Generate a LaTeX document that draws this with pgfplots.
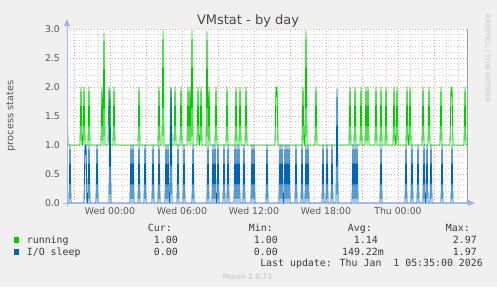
\documentclass[border=0pt]{standalone}
\usepackage{pgfplots}
\pgfplotsset{compat=1.18}
\usetikzlibrary{arrows.meta}
\usepackage{fontspec}
\setmainfont{DejaVu Sans}
\newfontfamily\monofont{DejaVu Sans Mono}
\definecolor{bg}{HTML}{F0F0F0}
\definecolor{running}{HTML}{00CC00}
\definecolor{iosleep}{HTML}{0066B3}
\definecolor{mgrid}{HTML}{EBA0A0}
\definecolor{mingrid}{HTML}{D0D0D0}
\definecolor{axiscol}{HTML}{A8B4E8}
\definecolor{txt}{HTML}{555555}
\definecolor{legtxt}{HTML}{3A3A3A}
\begin{document}
\begin{tikzpicture}
\fill[bg] (-67pt,-84pt) rectangle (430pt,203pt);
\begin{axis}[
  scale only axis, width=400pt, height=174pt,
  xmin=0, xmax=400, ymin=0, ymax=3,
  axis line style={draw=none},
  axis background/.style={fill=white},
  xtick={7,43,...,367},
  xticklabels={,Wed 00:00,,Wed 06:00,,Wed 12:00,,Wed 18:00,,Thu 00:00,},
  minor xtick={7,19,...,391},
  ytick={0,0.5,...,3},
  yticklabels={0.0,0.5,1.0,1.5,2.0,2.5,3.0},
  minor y tick num=4,
  grid=both,
  major grid style={mgrid, line width=0.7pt, dash pattern=on 1pt off 2pt},
  minor grid style={mingrid, line width=0.7pt, dash pattern=on 1pt off 2pt},
  tick style={draw=none},
  major tick length=0pt, minor tick length=0pt,
  ticklabel style={font=\fontsize{9.3}{11}\selectfont, text=txt},
  yticklabel style={anchor=east, inner sep=0pt, xshift=-7pt},
  xticklabel style={anchor=north, inner sep=0pt, yshift=-4pt},
]
\addplot[running, line width=0.85pt, line join=round, mark=none] coordinates {
(0,1.8)(1,1)
(13,1)(14,2)(15,1)
(16,1)(17,2)(18,1)
(21,1)(22,2)(23,1)
(34,1)(35,2)(36,1)
(36,1)(37,2.93)(38,1)
(41,1)(42,2)(43,1)
(46,1)(47,2)(48,1)
(71,1)(72,2)(73,1)
(91,1)(92,2)(93,1)
(95,1)(96,2.97)(97,1)
(103,1)(104,2)(105,1)
(107,1)(108,2)(109,1)
(113,1)(114,2)(115,1)
(120,1)(121,2)(122,1)
(122,1)(123,2)(124,1)
(124,1)(125,2.97)(126,1)
(130,1)(131,2)(132,1)
(133,1)(134,2)(135,1)
(139,1)(140,2.95)(141,1)
(141,1)(142,2)(143,1)
(148,1)(149,2)(150,1)
(159,1)(160,2)(161,1)
(168,1)(169,2)(170,1)
(172,1)(173,2)(174,1)
(178,1)(179,2)(180,1)
(208,1)(209,2)(210,2)(211,1)
(235,1)(236,2)(237,1)
(238,1)(239,2.97)(240,1)
(248,1)(249,2)(250,1)
(282,1)(283,2)(284,1)
(287,1)(288,2)(289,1)
(293,1)(294,2)(295,1)
(298,1)(299,2)(300,1)
(300,1)(301,2)(302,1)
(308,1)(309,2)(310,1)
(313,1)(314,2)(315,1)
(318,1)(319,2)(320,1)
(326,1)(327,2)(328,1)
(329,1)(330,2)(331,1)
(339,1)(340,2)(341,1)
(342,1)(343,2)(344,1)
(355,1)(356,2)(357,1)
(361,1)(362,2)(363,1)
(373,1)(374,2)(375,1)
(383,1)(384,2)(385,2)(386,1)
(397,1)(398,2)(399,1)
(400,1)
};
\addplot[iosleep, line width=0.85pt, line join=round, mark=none] coordinates {
(0,0)(2,0)(3,1)(4,0)
(17,0)(18,1)(19,1)(20,0)
(21,0)(22,1)(23,0)
(29,0)(30,1)(31,0)
(42,0)(43,1.95)(44,0)
(63,0)(64,1)(65,0)
(65,0)(66,1)(67,0)
(71,0)(72,1)(73,0)
(77,0)(78,1)(79,0)
(85,0)(86,1)(87,0)
(91,0)(92,1)(93,0)
(98,0)(99,1)(100,0)
(100,0)(101,1)(102,0)
(103,0)(104,1.97)(105,0)
(110,0)(111,1)(112,0)
(116,0)(117,1)(118,0)
(125,0)(126,1)(127,0)
(140,0)(141,1)(142,0)
(145,0)(146,1)(147,0)
(147,0)(148,1)(149,0)
(150,0)(151,1)(152,0)
(156,0)(157,1)(158,0)
(160,0)(161,1)(162,0)
(167,0)(168,1)(169,0)
(169,0)(170,1)(171,0)
(171,0)(172,1)(173,0)
(176,0)(177,1)(178,0)
(184,0)(185,1)(186,0)
(186,0)(187,1)(188,0)
(199,0)(200,1)(201,0)
(212,0)(213,1)(214,0)
(214,0)(215,1)(216,0)
(217,0)(218,1)(219,0)
(219,0)(220,1)(221,0)
(221,0)(222,1)(223,0)
(228,0)(229,1)(230,0)
(234,0)(235,1)(236,0)
(238,0)(239,1)(240,0)
(240,0)(241,1)(242,0)
(255,0)(256,1)(257,0)
(259,0)(260,1)(261,0)
(264,0)(265,1)(266,0)
(269,0)(270,1.97)(271,0)
(285,0)(286,1)(287,0)
(287,0)(288,1)(289,0)
(289,0)(290,1)(291,0)
(313,0)(314,1)(315,0)
(338,0)(339,1)(340,0)
(344,0)(345,1)(346,0)
(350,0)(351,1)(352,0)
(356,0)(357,1)(358,0)
(359,0)(360,1)(361,0)
(363,0)(364,1)(365,0)
(374,0)(375,1)(376,0)
(384,0)(385,1)(386,0)
(400,0)
};
\end{axis}
% frame lines
\draw[gray!75, line width=1pt] (400pt,0pt) -- (400pt,174pt);
\draw[axiscol, line width=1pt, -{Triangle[width=6pt,length=7pt]}] (0pt,-4pt) -- (0pt,184pt);
\draw[axiscol, line width=1pt, -{Triangle[width=6pt,length=7pt]}] (-4pt,0pt) -- (408pt,0pt);
% title and labels
\node[anchor=base, text=txt!85!black, font=\fontsize{13}{15}\selectfont] at (181pt,178.5pt) {VMstat - by day};
\node[rotate=90, text=txt, font=\fontsize{9.8}{12}\selectfont] at (-56pt,87pt) {process states};
\node[rotate=-90, text=black!22, font=\fontsize{6.8}{8}\selectfont] at (420.5pt,144.5pt) {RRDTOOL / TOBI OETIKER};
% legend
\begin{scope}[every node/.style={font=\monofont\fontsize{9.9}{12}\selectfont, text=legtxt, inner sep=0pt}]
\node[anchor=base east] at (105pt,-28.6pt) {Cur:};
\node[anchor=base east] at (206pt,-28.6pt) {Min:};
\node[anchor=base east] at (305pt,-28.6pt) {Avg:};
\node[anchor=base east] at (403pt,-28.6pt) {Max:};
\fill[running] (-53pt,-39.5pt) rectangle (-47.5pt,-34pt);
\node[anchor=base west] at (-40.3pt,-40.6pt) {running};
\node[anchor=base east] at (111pt,-40.6pt) {1.00};
\node[anchor=base east] at (211pt,-40.6pt) {1.00};
\node[anchor=base east] at (311pt,-40.6pt) {1.14};
\node[anchor=base east] at (410pt,-40.6pt) {2.97};
\fill[iosleep] (-53pt,-51.5pt) rectangle (-47.5pt,-46pt);
\node[anchor=base west] at (-40.3pt,-52.6pt) {I/O sleep};
\node[anchor=base east] at (111pt,-52.6pt) {0.00};
\node[anchor=base east] at (211pt,-52.6pt) {0.00};
\node[anchor=base east] at (317pt,-52.6pt) {149.22m};
\node[anchor=base east] at (410pt,-52.6pt) {1.97};
\node[anchor=base east] at (416pt,-63.9pt) {Last update: Thu Jan\ \ 1 05:35:00 2026};
\end{scope}
\node[text=black!25, font=\fontsize{7.5}{9}\selectfont] at (180.5pt,-74pt) {Munin 2.0.73};
\pgfresetboundingbox
\useasboundingbox (-67pt,-84pt) rectangle (430pt,203pt);
\end{tikzpicture}
\end{document}
